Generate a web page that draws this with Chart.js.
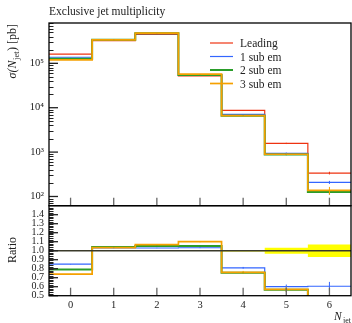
<!DOCTYPE html>
<html>
<head>
<meta charset="utf-8">
<script src="https://cdn.jsdelivr.net/npm/chart.js@4.4.0/dist/chart.umd.min.js"></script>
<style>
body { margin: 0; background: #fff; }
#wrap { position: relative; width: 352px; height: 323px; overflow: hidden; }
canvas { position: absolute; left: 0; top: 0; }
</style>
</head>
<body>
<div id="wrap">
  <canvas id="main" width="352" height="323"></canvas>
  <canvas id="ratio" width="352" height="323"></canvas>
</div>
<script>
// bins of the histogram (exclusive jet multiplicity)
var nJet = [0, 1, 2, 3, 4, 5, 6];

// sigma(N_jet) in pb
var leading = [1.62e5, 3.25e5, 4.50e5, 5.20e4, 8.70e3, 1570, 337];
var sub1em = [1.37e5, 3.36e5, 4.64e5, 5.37e4, 7.05e3, 940, 208];
var sub2em = [1.27e5, 3.38e5, 4.73e5, 5.47e4, 6.57e3, 887, 126];
var sub3em = [1.19e5, 3.37e5, 4.80e5, 5.72e4, 6.60e3, 895, 137];

// ratio to Leading
var ratio0 = [1, 1, 1, 1, 1, 1, 1];
var ratio1 = [0.85, 1.03, 1.03, 1.033, 0.81, 0.60, 0.605];
var ratio2 = [0.79, 1.04, 1.052, 1.052, 0.755, 0.565, 0.37];
var ratio3 = [0.74, 1.035, 1.067, 1.10, 0.76, 0.57, 0.41];

// relative stat. errors
var errLeading = [0.002, 0.002, 0.002, 0.003, 0.008, 0.033, 0.07];
var err1 = [0.003, 0.002, 0.002, 0.004, 0.012, 0.04, 0.08];
var err2 = [0.003, 0.002, 0.002, 0.004, 0.012, 0.04, 0.12];
var err3 = [0.004, 0.003, 0.003, 0.006, 0.02, 0.05, 0.2];

var labels = ['Leading', '1 sub em', '2 sub em', '3 sub em'];
var colors = ['#ee3311', '#3366ff', '#2a9d2a', '#f5a000'];
var widths = [1.2, 1.2, 2, 1.7];

var mainTicks = [100, 1000, 10000, 100000];
var ratioTicks = [0.5, 0.6, 0.7, 0.8, 0.9, 1.0, 1.1, 1.2, 1.3, 1.4];
var xTicks = [0, 1, 2, 3, 4, 5, 6];

var FONT = '"Liberation Serif", "DejaVu Serif", serif';
var sup = { '2': '\u00b2', '3': '\u00b3', '4': '\u2074', '5': '\u2075', '6': '\u2076' };

function histPoints(vals) { // two points per bin, so the line is a step histogram
    var pts = [];
    vals.forEach(function (v, i) {
        pts.push({ x: nJet[i] - 0.5, y: v });
        pts.push({ x: nJet[i] + 0.5, y: v });
    });
    return pts;
}

function seriesSet(i, vals, errs) {
    return {
        label: labels[i],
        data: histPoints(vals),
        borderColor: colors[i],
        backgroundColor: colors[i],
        borderWidth: widths[i],
        order: 4 - i,
        vals: vals,
        errs: errs
    };
}

// ticks inside the frame + frame + error bars
var framePlugin = {
    id: 'frame',
    afterDatasetsDraw: function (chart, args, opts) {
        var ctx = chart.ctx, a = chart.chartArea;
        var sx = chart.scales.x, sy = chart.scales.y;
        ctx.save();
        // error bars
        ctx.beginPath();
        ctx.rect(a.left, a.top, a.right - a.left, a.bottom - a.top);
        ctx.clip();
        chart.data.datasets.forEach(function (ds) {
            if (!ds.errs) return;
            ctx.strokeStyle = ds.borderColor;
            ctx.lineWidth = 1;
            ds.vals.forEach(function (v, i) {
                var px = sx.getPixelForValue(nJet[i]);
                ctx.beginPath();
                ctx.moveTo(px, sy.getPixelForValue(v * (1 - ds.errs[i])));
                ctx.lineTo(px, sy.getPixelForValue(v * (1 + ds.errs[i])));
                ctx.stroke();
            });
        });
        ctx.restore();

        ctx.save();
        ctx.strokeStyle = '#222';
        ctx.lineWidth = 1;
        // minor y ticks
        opts.minor.forEach(function (v) {
            if (v <= sy.min || v >= sy.max) return;
            var py = Math.round(sy.getPixelForValue(v)) + 0.5;
            ctx.beginPath(); ctx.moveTo(a.left, py); ctx.lineTo(a.left + 4.5, py); ctx.stroke();
        });
        // major y ticks
        ctx.lineWidth = 1.3;
        sy.ticks.forEach(function (t) {
            var py = sy.getPixelForValue(t.value);
            ctx.beginPath(); ctx.moveTo(a.left, py); ctx.lineTo(a.left + 9, py); ctx.stroke();
        });
        // x ticks at the bottom
        ctx.strokeStyle = '#666';
        xTicks.forEach(function (v) {
            var px = sx.getPixelForValue(v);
            ctx.beginPath(); ctx.moveTo(px, a.bottom); ctx.lineTo(px, a.bottom - 8); ctx.stroke();
        });
        // frame
        ctx.strokeStyle = '#000';
        ctx.lineWidth = 1.3;
        ctx.strokeRect(a.left, a.top, a.right - a.left, a.bottom - a.top);
        ctx.restore();
    }
};

var mainText = {
    id: 'mainText',
    afterDraw: function (chart) {
        var ctx = chart.ctx, a = chart.chartArea;
        ctx.save();
        ctx.fillStyle = '#222';
        ctx.textBaseline = 'alphabetic';
        ctx.font = '11.5px ' + FONT;
        ctx.textAlign = 'left';
        ctx.fillText('Exclusive jet multiplicity', a.left, 15);

        // legend
        chart.data.datasets.forEach(function (ds, i) {
            var y = 43 + i * 13.5;
            ctx.strokeStyle = ds.borderColor;
            ctx.lineWidth = ds.borderWidth;
            ctx.beginPath(); ctx.moveTo(210, y); ctx.lineTo(233, y); ctx.stroke();
            ctx.fillStyle = '#222';
            ctx.textBaseline = 'middle';
            ctx.font = '11.5px ' + FONT;
            ctx.fillText(ds.label, 240, y + 1);
        });

        // y title: sigma(N_jet) [pb]
        ctx.translate(16, 24);
        ctx.rotate(-Math.PI / 2);
        ctx.textBaseline = 'alphabetic';
        var p1 = '\u03c3(', p2 = 'N', p3 = 'jet', p4 = ') [pb]';
        ctx.font = 'italic 12px ' + FONT;
        var w1 = ctx.measureText(p1).width, w2 = ctx.measureText(p2).width;
        ctx.font = '8.5px ' + FONT;
        var w3 = ctx.measureText(p3).width;
        ctx.font = '12px ' + FONT;
        var w4 = ctx.measureText(p4).width;
        var x = -(w1 + w2 + w3 + w4 + 1);
        ctx.font = 'italic 12px ' + FONT;
        ctx.fillText(p1, x, 0); x += w1;
        ctx.fillText(p2, x, 0); x += w2 + 0.5;
        ctx.font = '8.5px ' + FONT;
        ctx.fillText(p3, x, 2.5); x += w3 + 0.5;
        ctx.font = '12px ' + FONT;
        ctx.fillText(p4, x, 0);
        ctx.restore();
    }
};

var ratioText = {
    id: 'ratioText',
    afterDraw: function (chart) {
        var ctx = chart.ctx;
        ctx.save();
        ctx.fillStyle = '#222';
        ctx.textBaseline = 'alphabetic';
        ctx.font = 'italic 11.5px ' + FONT;
        ctx.fillText('N', 334, 320);
        ctx.font = '8px ' + FONT;
        ctx.fillText('jet', 343, 323);
        ctx.translate(16, 250);
        ctx.rotate(-Math.PI / 2);
        ctx.font = '12px ' + FONT;
        ctx.textAlign = 'center';
        ctx.fillText('Ratio', 0, 0);
        ctx.restore();
    }
};

var mainMinor = [];
[1, 2, 3, 4, 5].forEach(function (p) {
    for (var m = 2; m <= 9; m++) mainMinor.push(m * Math.pow(10, p));
});
var ratioMinor = [];
for (var k = 0; k <= 50; k++) ratioMinor.push(0.5 + k * 0.02);

var common = {
    responsive: false,
    animation: false,
    devicePixelRatio: 1,
    events: [],
    elements: { point: { radius: 0 }, line: { tension: 0, fill: false } },
};

var mainChart = new Chart(document.getElementById('main'), {
    type: 'line',
    data: {
        datasets: [
            seriesSet(0, leading, errLeading),
            seriesSet(1, sub1em, err1),
            seriesSet(2, sub2em, err2),
            seriesSet(3, sub3em, err3)
        ]
    },
    options: Object.assign({}, common, {
        layout: { padding: { top: 23, right: 1, bottom: 117.3, left: 0 } },
        plugins: { legend: { display: false }, tooltip: { enabled: false }, frame: { minor: mainMinor } },
        scales: {
            x: { type: 'linear', min: -0.5, max: 6.5, display: false },
            y: {
                type: 'logarithmic', min: 62, max: 8.1e5,
                grid: { display: false, drawTicks: false }, border: { display: false },
                afterBuildTicks: function (s) { s.ticks = mainTicks.map(function (v) { return { value: v }; }); },
                afterFit: function (s) { s.width = 49; },
                ticks: {
                    autoSkip: false, padding: 5, color: '#222',
                    font: { family: FONT, size: 10.5 },
                    callback: function (v) { return '10' + sup[String(Math.round(Math.log10(v)))]; }
                }
            }
        }
    }),
    plugins: [framePlugin, mainText]
});

var bandHi = ratio0.map(function (r, i) { return r * (1 + errLeading[i]); });
var bandLo = ratio0.map(function (r, i) { return r * (1 - errLeading[i]); });

var ratioChart = new Chart(document.getElementById('ratio'), {
    type: 'line',
    data: {
        datasets: [
            { label: 'band+', data: histPoints(bandHi), borderWidth: 0, borderColor: 'rgba(0,0,0,0)', order: 10 },
            { label: 'band-', data: histPoints(bandLo), borderWidth: 0, borderColor: 'rgba(0,0,0,0)', backgroundColor: '#ffff00', fill: '-1', order: 10 },
            { label: 'Leading', data: histPoints(ratio0), borderColor: '#3a3a2a', borderWidth: 1.5, order: 0 },
            seriesSet(1, ratio1, err1),
            seriesSet(2, ratio2, err2),
            seriesSet(3, ratio3, err3)
        ]
    },
    options: Object.assign({}, common, {
        layout: { padding: { top: 205.7, right: 1, bottom: 0, left: 0 } },
        plugins: { legend: { display: false }, tooltip: { enabled: false }, frame: { minor: ratioMinor } },
        scales: {
            x: {
                type: 'linear', min: -0.5, max: 6.5,
                grid: { display: false, drawTicks: false }, border: { display: false },
                afterBuildTicks: function (s) { s.ticks = xTicks.map(function (v) { return { value: v }; }); },
                afterFit: function (s) { s.height = 27.3; },
                ticks: { autoSkip: false, maxRotation: 0, padding: 3, color: '#222', font: { family: FONT, size: 10.5 } }
            },
            y: {
                type: 'linear', min: 0.5, max: 1.5,
                grid: { display: false, drawTicks: false }, border: { display: false },
                afterBuildTicks: function (s) { s.ticks = ratioTicks.map(function (v) { return { value: v }; }); },
                afterFit: function (s) { s.width = 49; },
                ticks: {
                    autoSkip: false, padding: 5, color: '#222',
                    font: { family: FONT, size: 10 },
                    callback: function (v) { return v.toFixed(1); }
                }
            }
        }
    }),
    plugins: [framePlugin, ratioText]
});
</script>
</body>
</html>
